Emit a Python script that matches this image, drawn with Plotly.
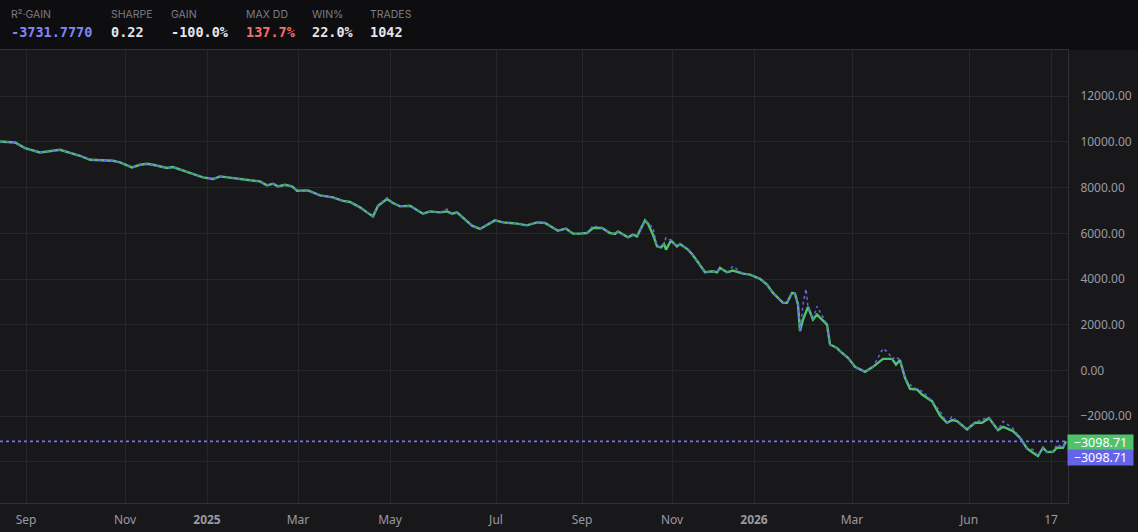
import plotly.graph_objects as go

# bar index (chart is index-spaced like a trading chart) and equity values
bars = [0, 15, 25, 40, 60, 80, 90, 100, 113, 120, 132, 140, 147, 153, 167, 173, 182, 192,
        203, 213, 220, 233, 247, 260, 267, 273, 278, 285, 292, 297, 308, 320, 333, 342,
        350, 360, 367, 373, 378, 387, 393, 400, 410, 423, 430, 440, 447, 452, 457, 472,
        480, 487, 495, 503, 517, 527, 537, 545, 558, 566, 573, 580, 587, 593, 602, 610,
        615, 618, 628, 633, 637, 645, 648, 653, 657, 661, 664, 666, 671, 677, 680, 688,
        692, 698, 705, 713, 717, 720, 727, 733, 743, 750, 760, 767, 773, 783, 787, 792,
        795, 798, 800, 803, 806, 808, 813, 817, 827, 830, 837, 840, 848, 855, 865, 873,
        883, 888, 892, 896, 900, 905, 910, 917, 922, 932, 940, 947, 952, 957, 967, 975,
        982, 989, 998, 1003, 1013, 1020, 1027, 1033, 1038, 1043, 1047, 1053, 1057, 1063,
        1066]

# closed equity (green)
equity = [10020, 9977, 9732, 9540, 9658, 9395, 9221, 9190, 9177, 9103, 8884, 9002, 9046,
          9002, 8858, 8902, 8753, 8609, 8447, 8377, 8491, 8421, 8347, 8272, 8098, 8172,
          8054, 8128, 8054, 7866, 7879, 7661, 7573, 7429, 7372, 7137, 6918, 6743, 7210,
          7503, 7329, 7180, 7210, 6861, 6962, 6918, 6962, 6861, 6918, 6337, 6192, 6380,
          6568, 6481, 6424, 6350, 6481, 6452, 6118, 6205, 5987, 5987, 6016, 6235, 6235,
          6016, 5973, 6087, 5825, 5943, 5869, 6568, 6424, 5943, 5432, 5388, 5537, 5288,
          5681, 5432, 5537, 5288, 5100, 4733, 4296, 4340, 4296, 4488, 4296, 4370, 4239,
          4195, 4007, 3758, 3395, 2958, 2958, 3395, 3365, 2884, 1718, 2229, 2578, 2782,
          2229, 2447, 2010, 1136, 990, 845, 553, 160, -58, 160, 509, 509, 509, 262, 451,
          -321, -801, -830, -1049, -1340, -1967, -2287, -2171, -2215, -2578, -2287, -2287,
          -2084, -2608, -2462, -2652, -2943, -3409, -3600, -3745, -3380, -3570, -3555,
          -3380, -3380, -3098.71]

# equity incl. open positions (purple dotted)
equity_open = [10020, 9977, 9732, 9540, 9658, 9395, 9221, 9190, 9177, 9103, 8884, 9002, 9046,
               9002, 8858, 8902, 8753, 8609, 8447, 8377, 8491, 8421, 8347, 8272, 8098, 8172,
               8054, 8128, 8054, 7866, 7879, 7661, 7573, 7429, 7372, 7137, 6918, 6743, 7210,
               7560, 7329, 7180, 7210, 6861, 6962, 6918, 7060, 6861, 6918, 6337, 6192, 6380,
               6568, 6481, 6424, 6350, 6481, 6452, 6118, 6205, 5987, 5987, 6016, 6337, 6235,
               6016, 5973, 6087, 5825, 5943, 5869, 6568, 6424, 6250, 5432, 5388, 5537, 5812,
               5681, 5432, 5537, 5288, 5100, 4733, 4296, 4340, 4296, 4488, 4296, 4560, 4239,
               4195, 4007, 3758, 3395, 2958, 2958, 3395, 3365, 2884, 1718, 2900, 3570, 2782,
               2229, 2811, 2010, 1136, 990, 845, 553, 160, -58, 160, 961, 800, 509, 600, 451,
               -321, -612, -830, -900, -1340, -1792, -2287, -2010, -2215, -2578, -2287, -2130,
               -2084, -2608, -2229, -2535, -2943, -3409, -3452, -3745, -3380, -3570, -3555,
               -3234, -3380, -3098.71]

last_value = -3098.71

tick_bars = [26, 125, 207, 298, 390, 496, 582, 672, 754, 852, 969, 1051]
tick_labels = ["Sep", "Nov", "<b>2025</b>", "Mar", "May", "Jul", "Sep", "Nov",
               "<b>2026</b>", "Mar", "Jun", "17"]

price_ticks = [-4000, -2000, 0, 2000, 4000, 6000, 8000, 10000, 12000]

stat_names = ["R²·GAIN", "SHARPE", "GAIN", "MAX DD", "WIN%", "TRADES"]
stat_values = ["-3731.7770", "0.22", "-100.0%", "137.7%", "22.0%", "1042"]

GREEN = "#4fc36a"
PURPLE = "#6563e8"
BG = "#18181b"
HEADER = "#0e0e10"
GRID = "#27272b"
TXT = "#9a9aa2"

fig = go.Figure()
fig.add_trace(go.Scatter(x=bars, y=equity, mode="lines",
                         line=dict(color=GREEN, width=2.4), hoverinfo="skip"))
fig.add_trace(go.Scatter(x=bars, y=equity_open, mode="lines",
                         line=dict(color=PURPLE, width=1.5, dash="dot"), hoverinfo="skip"))

# last value dotted line
fig.add_shape(type="line", xref="paper", x0=0, x1=1, yref="y", y0=last_value, y1=last_value,
              line=dict(color="#7370ff", width=1.6, dash="3px,3px"))

# header band
fig.add_shape(type="rect", xref="paper", yref="paper", x0=0, x1=1138 / 1068,
              y0=1, y1=1 + 50 / 453, fillcolor=HEADER, line=dict(width=0), layer="below")

stat_x = [10, 110, 170, 245, 311, 369]
stat_colors = ["#8185f4", "#e6e6ea", "#e6e6ea", "#f2716c", "#e6e6ea", "#e6e6ea"]
for name, val, px_, col in zip(stat_names, stat_values, stat_x, stat_colors):
    fig.add_annotation(text=name, xref="paper", yref="paper", x=0, y=1, xanchor="left",
                       yanchor="middle", xshift=px_ - 1, yshift=36, showarrow=False,
                       font=dict(family="Inter", size=10.5, color="#7c7c86"))
    fig.add_annotation(text="<b>" + val + "</b>", xref="paper", yref="paper", x=0, y=1,
                       xanchor="left", yanchor="middle", xshift=px_ - 1, yshift=18,
                       showarrow=False,
                       font=dict(family="DejaVu Sans Mono", size=13.5, color=col))

# last value labels on price axis
fmt = "{:.2f}".format(last_value).replace("-", "\u2212")
for shift, col in [(0, GREEN), (-15, PURPLE)]:
    fig.add_annotation(text=fmt, xref="paper", yref="y", x=1, y=last_value, xanchor="left",
                       yanchor="middle", yshift=shift - 1, xshift=-1, showarrow=False,
                       bgcolor=col, width=63, height=13, borderpad=1, align="center",
                       font=dict(family="Noto Sans", size=12.5, color="white"))

fig.update_layout(
    width=1138, height=532,
    margin=dict(l=0, r=70, t=50, b=29),
    paper_bgcolor=BG, plot_bgcolor=BG,
    showlegend=False,
    font=dict(family="Noto Sans", size=12, color=TXT),
)
fig.update_xaxes(range=[0, 1068], tickvals=tick_bars, ticktext=tick_labels,
                 showgrid=True, gridcolor=GRID, gridwidth=1, zeroline=False,
                 showline=True, linecolor="#303036", linewidth=1, mirror=True,
                 ticks="", tickfont=dict(size=12, color=TXT), ticklabelstandoff=6)
fig.update_yaxes(range=[-5797, 14022], side="right", tickvals=price_ticks,
                 ticktext=["" if v == -4000 else "{:.2f}".format(v).replace("-", "\u2212")
                           for v in price_ticks],
                 showgrid=True, gridcolor=GRID, gridwidth=1, zeroline=False,
                 showline=True, linecolor="#303036", linewidth=1,
                 ticks="", tickfont=dict(size=12, color=TXT), ticklabelstandoff=9)

# drop the default page margin so the figure sits at the window origin
fig.write_html("out.html", config={"displayModeBar": False},
               post_script="document.body.style.margin='0';document.body.style.overflow='hidden';")
